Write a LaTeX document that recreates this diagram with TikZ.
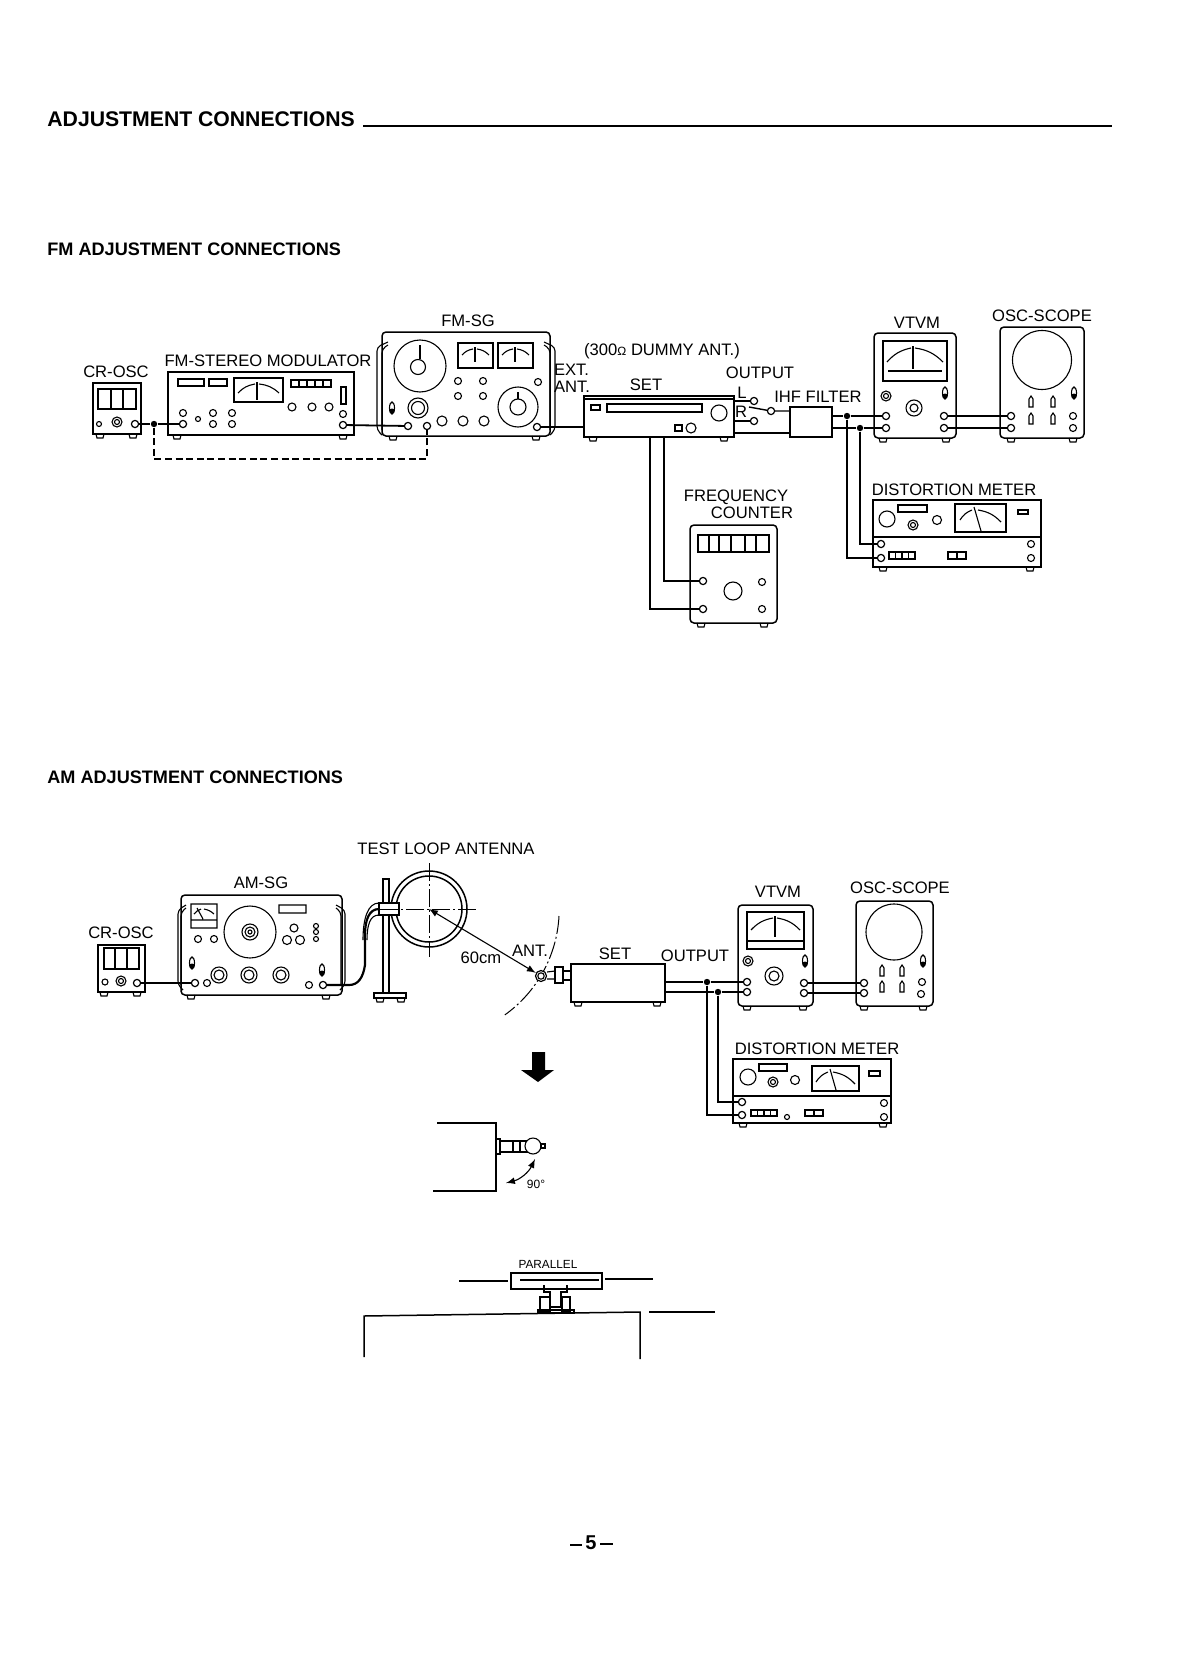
\documentclass[tikz,border=0pt]{standalone}
\usepackage{fontspec}
\setmainfont{Liberation Sans}
\tikzset{
   unit/.style 2 args={draw, line width=.75pt, anchor=north west, inner sep=0, outer sep=0, minimum width=#1*.5pt, minimum height=#2*.5pt},
   lab/.style={inner sep=0, font=\fontsize{8.3}{10}\selectfont, align=center},
   head/.style={inner sep=0, anchor=west, font=\bfseries\fontsize{9.05}{11}\selectfont},
   jack/.style={circle, draw, line width=.6pt, fill=white, minimum size=3.6pt, inner sep=0, path picture={\fill (path picture bounding box.center) circle (1.2pt);}},
   junction/.style={circle, fill, minimum size=3.2pt, inner sep=0},
   wire/.style={line width=1.1pt},
   detail/.style={line width=.55pt},
   dashdot/.style={line width=.5pt, dash pattern=on 9pt off 1.5pt on 1pt off 1.5pt}
}
\newcommand{\feet}[2]{\foreach \fx in {#2} \draw[detail] (\fx-4,#1) -- (\fx-3,#1+4) -- (\fx+3,#1+4) -- (\fx+4,#1);}
\newcommand{\thermo}[2]{\draw[detail] (#1,#2) ellipse (2.5 and 6); \fill (#1,#2+3) circle (2.5);}
\newcommand{\meterarcs}[5]{\draw[detail] (#1+4,#4) to[bend left=18] (#5-2,#3+4); \draw[detail] (#5+2,#3+4) to[bend left=18] (#2-4,#4); \draw[detail] (#5,#3+2) -- (#5,#4+7);}
\begin{document}
\begin{tikzpicture}[x=.5pt, y=-.5pt, >=latex]
   \useasboundingbox (0,0) rectangle (1190,1680);
   \node[head, font=\bfseries\fontsize{10.6}{12}\selectfont] (title) at (47,119) {ADJUSTMENT CONNECTIONS};
   \draw[line width=1pt] (title.east |- 0,126) ++(8,0) -- (1112,126);
   \node[head] (fmhead) at (47,249) {FM ADJUSTMENT CONNECTIONS};
   \node[head] (amhead) at (47,777) {AM ADJUSTMENT CONNECTIONS};

   \node[lab] (fmcroscl) at (116,372) {CR-OSC};
   \node[unit={48}{51}] (fmcrosc) at (93,383) {};
   \draw[detail] (98,389) rectangle (136,409);
   \foreach \x in {111,123} \draw[detail] (\x,389) -- (\x,409);
   \draw[detail] (99,424) circle (2.5) (117,422) circle (5) (117,422) circle (2.5);
   \feet{434}{100,133}
   \node[jack] (fmcroscout) at (135,424) {};

   \node[lab] (modl) at (268,361) {FM-STEREO MODULATOR};
   \node[unit={186}{63}] (mod) at (168,372) {};
   \draw[detail] (178,379) rectangle (204,386) (209,379) rectangle (227,386) (234,378) rectangle (283,402);
   \meterarcs{234}{283}{380}{393}{257}
   \draw[detail] (291,380) rectangle (331,387) (341,387) rectangle (346,404);
   \foreach \x in {299,307,315,323} \draw[detail] (\x,380) -- (\x,387);
   \foreach \x/\y/\r in {292/407/4,312/407/4,329/407/4,343/414/3.5,183/413/3.5,198/419/2.5,213/413/3.5,213/424/3.5,232/413/3.5,232/424/3.5} \draw[detail] (\x,\y) circle (\r);
   \feet{435}{177,343}
   \node[jack] (modin) at (183,424) {};
   \node[jack] (modout) at (343,425) {};

   \node[lab] (fmsgl) at (468,321) {FM-SG};
   \node[unit={168}{104}, rounded corners=2pt] (fmsg) at (382,332) {};
   \draw[detail, rounded corners=2pt] (388,342) -- (377,347) -- (377,430) -- (382,435);
   \draw[detail, rounded corners=2pt] (388,345) -- (382,349) -- (382,430);
   \draw[detail, rounded corners=2pt] (544,342) -- (555,347) -- (555,430) -- (550,435);
   \draw[detail, rounded corners=2pt] (544,345) -- (550,349) -- (550,430);
   \foreach \x/\y/\r in {420/366/26,418/367/7.5,458/381/3.5,483/381/3.5,458/396/3.5,483/396/3.5,538/382/3.5,518/407/20,518/407/8,418/408/10,418/408/6.5,442/421/5,463/421/5,484/421/5} \draw[detail] (\x,\y) circle (\r);
   \draw[detail] (420,345) -- (420,359) (518,392) -- (518,399);
   \foreach \x/\n in {458/475,498/515} {
      \draw[detail] (\x,343) rectangle (\x+35,368);
      \meterarcs{\x}{\x+35}{345}{355}{\n}
   }
   \thermo{392}{408}
   \feet{436}{393,536}
   \node[jack] (fmsgin) at (408,426) {};
   \node[jack] (fmsgmod) at (427,426) {};
   \node[jack] (fmsgout) at (537,427) {};

   \node[lab] (dummyl) at (662,351) {(300{\fontsize{6}{6}\selectfont Ω} DUMMY ANT.)};
   \node[lab, align=left] (extl) at (572,378) {EXT.\\[-1.5pt]ANT.};
   \node[lab] (fmsetl) at (646,385) {SET};
   \node[unit={150}{41}] (fmset) at (584,396) {};
   \draw[detail] (584,399) -- (734,399);
   \draw[detail] (591,405) rectangle (600,410) (607,404) rectangle (702,412) (675,425) rectangle (682,431);
   \draw[detail] (719,413) circle (8) (691,428) circle (5);
   \feet{437}{593,724}
   \node[lab] (outl) at (760,373) {OUTPUT};
   \node[lab] (ll) at (742,393) {L};
   \node[lab] (rl) at (741,412) {R};
   \node[jack, path picture={}] (setl) at (754,401) {};
   \node[jack, path picture={}] (setr) at (754,421) {};
   \node[jack, path picture={}] (pivot) at (771,411) {};
   \node[lab] (ihfl) at (818,397) {IHF FILTER};
   \node[unit={42}{30}] (ihf) at (790,407) {};
   \coordinate (setout) at (734,433);
   \coordinate (setfc) at (664,437);
   \coordinate (setfd) at (650,437);

   \node[lab] (fmvtvml) at (917,323) {VTVM};
   \node[unit={82}{105}, rounded corners=2pt] (fmvtvm) at (874,333) {};
   \draw[detail] (883,341) rectangle (947,381) (888,371) -- (942,371);
   \meterarcs{883}{947}{344}{362}{913}
   \draw[detail] (886,396) circle (5) (886,396) circle (2.5) (914,408) circle (8) (914,408) circle (4);
   \thermo{945}{393}
   \feet{438}{883,946}
   \node[jack] (fmvin1) at (886,416) {};
   \node[jack] (fmvin2) at (886,428) {};
   \node[jack] (fmvout1) at (944,416) {};
   \node[jack] (fmvout2) at (944,428) {};

   \node[lab] (fmscopel) at (1042,316) {OSC-SCOPE};
   \node[unit={84}{111}, rounded corners=2pt] (fmscope) at (1000,327) {};
   \draw[detail] (1042,360) circle (29.5);
   \foreach \x/\y in {1031/402,1053/402,1031/419,1053/419} \draw[detail] (\x-2,\y+5) -- (\x-2,\y-3) -- (\x,\y-6) -- (\x+2,\y-3) -- (\x+2,\y+5) -- cycle;
   \draw[detail] (1073,416) circle (3.5) (1073,428) circle (3.5);
   \thermo{1074}{393}
   \feet{438}{1011,1073}
   \node[jack] (fmsin1) at (1011,416) {};
   \node[jack] (fmsin2) at (1011,428) {};

   \node[lab] (freql) at (736,497) {FREQUENCY};
   \node[lab] (countl) at (752,513) {COUNTER};
   \node[unit={87}{98}, rounded corners=2pt] (count) at (690,525) {};
   \draw[detail] (698,535) rectangle (769,552);
   \foreach \x in {709,719,731,745,756} \draw[detail] (\x,535) -- (\x,552);
   \draw[detail] (733,591) circle (9) (762,582) circle (3.5) (762,609) circle (3.5);
   \feet{623}{701,764}
   \node[jack] (cntin1) at (703,581) {};
   \node[jack] (cntin2) at (703,609) {};

   \node[lab] (fmdistl) at (954,490) {DISTORTION METER};
   \node[unit={168}{67}] (fmdist) at (873,500) {};
   \draw[detail] (873,537) -- (1041,537);
   \draw[detail] (898,505) rectangle (927,512) (955,504) rectangle (1006,532) (1018,510) rectangle (1028,514);
   \draw[detail] (887,519) circle (8) (913,525) circle (5) (913,525) circle (2.5) (937,520) circle (4.5) (1031,544) circle (3.5) (1031,558) circle (3.5);
   \draw[detail] (974,507) -- (981,531) (960,520) to[bend left=18] (972,510) (978,510) to[bend left=18] (1001,522);
   \draw[detail] (889,552) rectangle (915,559) (948,552) rectangle (966,559) (957,552) -- (957,559);
   \foreach \x in {895.5,902,908.5} \draw[detail] (\x,552) -- (\x,559);
   \feet{567}{883,1030}
   \node[jack] (fmdin1) at (881,544) {};
   \node[jack] (fmdin2) at (881,558) {};

   \node[junction] (fmj0) at (154,424) {};
   \node[junction] (fmj1) at (847,416) {};
   \node[junction] (fmj2) at (860,428) {};
   \draw[wire] (fmcroscout) -- (fmj0) -- (modin);
   \draw[wire, dash pattern=on 3.5pt off 1.8pt] (fmj0) |- (fmsgmod |- 0,459) -- (fmsgmod);
   \draw[line width=.9pt] (modout) -- (fmsgin);
   \draw[line width=.9pt] (fmsgout) -- (fmset.west |- fmsgout);
   \draw[line width=.7pt] (fmset.east |- setl) -- (setl);
   \draw[line width=.7pt] (fmset.east |- setr) -- (setr);
   \draw[line width=.7pt] (749,407) -- (pivot) -- (ihf.west |- pivot);
   \draw[line width=.7pt] (setout) -- (ihf.west |- setout);
   \draw[wire] (setfc) |- (cntin1);
   \draw[wire] (setfd) |- (cntin2);
   \draw[wire] (ihf.east |- fmvin1) -- (fmj1) -- (fmvin1);
   \draw[wire] (ihf.east |- fmvin2) -- (fmj2) -- (fmvin2);
   \draw[wire] (fmj1) |- (fmdin2);
   \draw[wire] (fmj2) |- (fmdin1);
   \draw[wire] (fmvout1) -- (fmsin1);
   \draw[wire] (fmvout2) -- (fmsin2);

   \node[lab] (amcroscl) at (121,933) {CR-OSC};
   \node[unit={47}{47}] (amcrosc) at (98,945) {};
   \draw[detail] (104,948) rectangle (139,969);
   \foreach \x in {115,127} \draw[detail] (\x,948) -- (\x,969);
   \draw[detail] (105,982) circle (3) (121,981) circle (5) (121,981) circle (2.5);
   \feet{992}{104,137}
   \node[jack] (amcroscout) at (137,983) {};

   \node[lab] (amsgl) at (261,883) {AM-SG};
   \node[unit={161}{100}, rounded corners=2pt] (amsg) at (181,895) {};
   \draw[detail, rounded corners=2pt] (186,905) -- (178,910) -- (178,985) -- (183,990) (186,908) -- (181,912) -- (181,985);
   \draw[detail, rounded corners=2pt] (336,905) -- (345,910) -- (345,985) -- (340,990) (336,908) -- (341,912) -- (341,985);
   \draw[detail] (191,904) rectangle (217,928) (191,920) -- (217,920) (197,908) -- (203,919) (279,905) rectangle (306,913);
   \draw[detail] (194,914) to[bend left=15] (201,909) (204,909) to[bend left=15] (214,914);
   \foreach \x/\y/\r in {250/932/26,250/932/8,250/932/5,250/932/2,294/928/4,316/926/2.5,316/932/2.5,316/939/2.5,287/940/4.5,300/940/4.5,198/939/3.5,214/939/3.5,219/975/8,219/975/5,249/975/8,249/975/5,281/975/8,281/975/5,207/983/3.5,309/985/3.5} \draw[detail] (\x,\y) circle (\r);
   \thermo{192}{963}
   \thermo{322}{970}
   \feet{995}{191,326}
   \node[jack] (amsgin) at (195,983) {};
   \node[jack] (amsgout) at (323,985) {};

   \node[lab] (loopl) at (446,849) {TEST LOOP ANTENNA};
   \draw[line width=.75pt] (429,909) circle (38) (429,909) circle (33);
   \draw[detail] (383,879) rectangle (389,993);
   \draw[line width=.75pt] (374,993) rectangle (406,998);
   \feet{998}{380,401}
   \node[unit={20}{12}, fill=white] (clamp) at (379,903) {};
   \draw[dashdot] (380,909) -- (476,909) (429,863) -- (429,957);
   \draw[detail] (363,940) .. controls (363,918) and (368,903) .. (clamp.north west);
   \draw[detail] (367,940) .. controls (367,925) and (370,915) .. (clamp.south west);
   \node[lab] (cml) at (481,958) {60cm};
   \node[lab] (antl) at (530,951) {ANT.};
   \draw[dashdot] (559,916) arc (3:54.4:130);
   \node[jack, minimum size=5.5pt, path picture={}] (ball) at (541,976) {};
   \draw[detail] (541,976) circle (3.2);
   \coordinate (loopc) at (429,909);
   \draw[<->, detail] (loopc) -- (ball);
   \draw[detail] (ball.east) ++(0,-4) -- (555,971) (ball.east) ++(0,3) -- (555,979);
   \draw[detail] (555,967) rectangle (563,983) (563,971) rectangle (571,980);

   \node[lab] (amsetl) at (615,954) {SET};
   \node[lab] (amoutl) at (695,956) {OUTPUT};
   \node[unit={94}{38}] (amset) at (571,964) {};
   \feet{1002}{578,657}

   \node[lab] (amvtvml) at (778,892) {VTVM};
   \node[unit={75}{101}, rounded corners=2pt] (amvtvm) at (738,905) {};
   \draw[detail] (747,912) rectangle (804,949) (747,941) -- (804,941);
   \meterarcs{747}{804}{914}{930}{775}
   \draw[detail] (748,961) circle (5) (748,961) circle (2.5) (774,976) circle (9) (774,976) circle (5);
   \thermo{805}{961}
   \feet{1006}{747,803}
   \node[jack] (amvin1) at (747,982) {};
   \node[jack] (amvin2) at (747,992) {};
   \node[jack] (amvout1) at (804,983) {};
   \node[jack] (amvout2) at (804,993) {};

   \node[lab] (amscopel) at (900,888) {OSC-SCOPE};
   \node[unit={77}{105}, rounded corners=2pt] (amscope) at (856,901) {};
   \draw[detail] (894,932) circle (28);
   \foreach \x/\y in {882/971,902/971,882/987,902/987} \draw[detail] (\x-2,\y+5) -- (\x-2,\y-3) -- (\x,\y-6) -- (\x+2,\y-3) -- (\x+2,\y+5) -- cycle;
   \draw[detail] (922,982) circle (3.5) (921,994) circle (3.5);
   \thermo{923}{961}
   \feet{1006}{864,923}
   \node[jack] (amsin1) at (864,983) {};
   \node[jack] (amsin2) at (864,993) {};

   \node[lab] (amdistl) at (817,1049) {DISTORTION METER};
   \node[unit={158}{64}] (amdist) at (733,1059) {};
   \draw[detail] (733,1096) -- (891,1096);
   \draw[detail] (759,1064) rectangle (787,1071) (812,1066) rectangle (859,1091) (869,1071) rectangle (880,1076);
   \draw[detail] (748,1077) circle (8) (773,1082) circle (5) (773,1082) circle (2.5) (795,1080) circle (4.5) (884,1103) circle (3.5) (884,1117) circle (3.5) (787,1117) circle (2.5);
   \draw[detail] (830,1069) -- (836,1090) (816,1082) to[bend left=18] (828,1072) (833,1072) to[bend left=18] (855,1084);
   \draw[detail] (751,1110) rectangle (777,1116) (805,1110) rectangle (823,1116) (814,1110) -- (814,1116);
   \foreach \x in {757.5,764,770.5} \draw[detail] (\x,1110) -- (\x,1116);
   \feet{1123}{743,883}
   \node[jack] (amdin1) at (742,1102) {};
   \node[jack] (amdin2) at (742,1115) {};

   \node[junction] (amj1) at (707,982) {};
   \node[junction] (amj2) at (718,992) {};
   \draw[wire] (amcroscout) -- (amsgin);
   \draw[wire] (amsgout) -- (349,985) .. controls (358,985) and (363,978) .. (365,965) -- (365,935) .. controls (365,920) and (369,909) .. (clamp.west);
   \draw[wire] (amset.east |- amvin1) -- (amj1) -- (amvin1);
   \draw[wire] (amset.east |- amvin2) -- (amj2) -- (amvin2);
   \draw[wire] (amj1) |- (amdin2);
   \draw[wire] (amj2) |- (amdin1);
   \draw[wire] (amvout1) -- (amsin1);
   \draw[wire] (amvout2) -- (amsin2);

   \fill (532,1052) -- (545,1052) -- (545,1070) -- (554,1070) -- (538,1082) -- (521,1070) -- (532,1070) -- cycle;

   \draw[line width=.75pt] (437,1123) -- (496,1123) -- (496,1191) -- (433,1191);
   \draw[detail] (496,1139) rectangle (500,1154) (500,1141) rectangle (527,1152) (513,1141) -- (513,1152) (520,1141) -- (520,1152);
   \draw[detail, fill=white] (533,1146) circle (8);
   \draw[detail] (541,1144) rectangle (545,1148);
   \node[lab, font=\fontsize{6}{7}\selectfont] (degl) at (536,1184) {90°};
   \draw[<->, detail] (535,1159) to[bend left=25] (506,1183);

   \node[lab, font=\fontsize{5.9}{7}\selectfont] (parl) at (548,1264) {PARALLEL};
   \draw[line width=.75pt] (511,1273) rectangle (602,1289);
   \draw[detail] (520,1280) -- (599,1280) (459,1281) -- (508,1281) (605,1279) -- (653,1279) (649,1312) -- (715,1312);
   \draw[detail] (544,1285) -- (544,1292) -- (550,1292) -- (550,1306) (567,1285) -- (567,1292) -- (561,1292) -- (561,1306);
   \draw[detail] (540,1297) rectangle (550,1312) (562,1297) rectangle (570,1312) (550,1307) -- (562,1307);
   \draw[line width=.75pt] (538,1310) rectangle (574,1313);
   \draw[line width=.75pt] (364,1357) -- (364,1316) -- (640,1312) -- (640,1359);

   \node[inner sep=0, font=\bfseries\fontsize{10}{12}\selectfont] (page) at (591,1543) {5};
   \draw[line width=1pt] (570,1545) -- (582,1545) (600,1544) -- (613,1544);
\end{tikzpicture}
\end{document}
